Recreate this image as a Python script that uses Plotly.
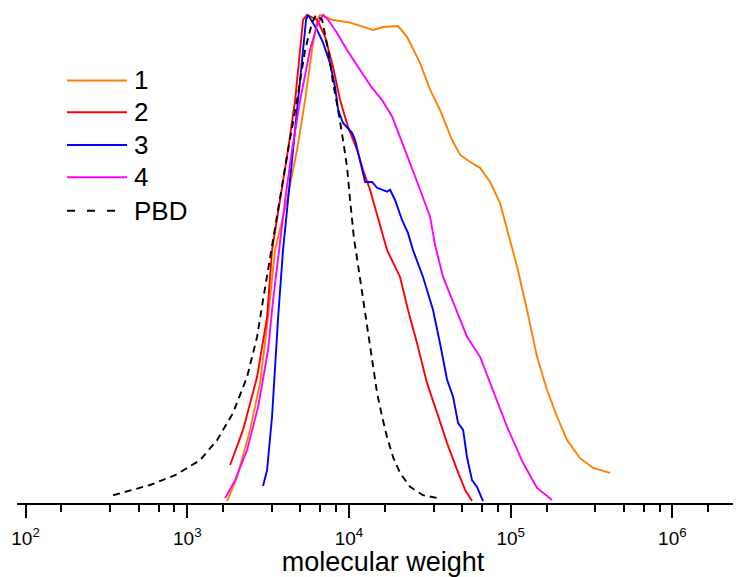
import plotly.graph_objects as go

# molecular weight / normalised signal
mw_1 = [1762, 2032, 2445, 2818, 3162, 3491, 4140, 4776, 5354, 5913, 6353, 6626, 7857,
        10160, 14100, 16250, 20140, 22860, 27540, 31770, 36560, 43420, 48640, 56100,
        64710, 74640, 85900, 99100, 109600, 126300, 145600, 167900, 193600, 223300,
        268500, 323600, 412100]
sig_1 = [0.002, 0.051, 0.148, 0.244, 0.380, 0.517, 0.620, 0.723, 0.825, 0.928, 0.990, 1.0, 0.990,
         0.984, 0.969, 0.975, 0.977, 0.955, 0.901, 0.846, 0.805, 0.743, 0.713, 0.698,
         0.686, 0.657, 0.614, 0.538, 0.483, 0.394, 0.298, 0.230, 0.175, 0.127,
         0.090, 0.070, 0.060]

mw_2 = [1841, 2213, 2703, 3118, 3344, 3750, 4200, 4645, 4988, 5202, 5506, 6353, 7118,
        7976, 8810, 9870, 11220, 12220, 13500, 15140, 17210, 20700, 23190, 26370,
        30400, 35070, 40440, 46650, 52240, 57680]
sig_2 = [0.076, 0.148, 0.257, 0.380, 0.517, 0.620, 0.723, 0.825, 0.928, 0.990, 1.0, 0.990, 0.955,
         0.893, 0.825, 0.770, 0.723, 0.682, 0.641, 0.585, 0.517, 0.462, 0.394, 0.326,
         0.244, 0.183, 0.121, 0.066, 0.025, 0.002]

mw_3 = [2942, 3118, 3344, 3491, 3648, 3910, 4200, 4510, 4843, 5202, 5430, 5585, 5998,
        6353, 6918, 7638, 8204, 8570, 9190, 10450, 10910, 11720, 12590, 13900, 14920,
        17210, 17950, 19280, 21290, 23190, 24900, 28710, 33110, 36560, 40440, 44060,
        47300, 50800, 53720, 57680, 61950, 67450]
sig_3 = [0.033, 0.066, 0.175, 0.277, 0.380, 0.517, 0.620, 0.723, 0.825, 0.928, 0.990, 1.0, 0.984,
         0.969, 0.943, 0.901, 0.852, 0.805, 0.778, 0.758, 0.743, 0.702, 0.657, 0.657, 0.645,
         0.637, 0.641, 0.620, 0.579, 0.552, 0.517, 0.462, 0.394, 0.326, 0.251, 0.216,
         0.162, 0.148, 0.092, 0.045, 0.031, 0.002]

mw_4 = [1713, 1976, 2344, 2742, 3162, 3394, 3696, 4027, 4446, 4988, 5745, 6353, 6918,
        7430, 8440, 9730, 11720, 13900, 16030, 18490, 20700, 23880, 27540, 31770,
        34050, 38190, 46650, 53720, 64710, 77840, 95060, 119400, 145600, 180300]
sig_4 = [0.008, 0.045, 0.107, 0.195, 0.312, 0.415, 0.517, 0.620, 0.723, 0.825, 0.928, 0.979, 1.0,
         0.990, 0.963, 0.928, 0.887, 0.850, 0.825, 0.791, 0.749, 0.696, 0.641, 0.585,
         0.528, 0.462, 0.388, 0.339, 0.298, 0.230, 0.154, 0.080, 0.029, 0.004]

mw_pbd = [348, 589, 841, 1200, 1528, 1920, 2344, 2703, 2942, 3251, 3750, 4200, 4776,
          5354, 5913, 6266, 6823, 7430, 7976, 8570, 9190, 9730, 10160, 10760, 11070,
          12050, 12940, 13900, 14920, 16030, 17210, 18750, 20700, 23880, 28710, 35560]
sig_pbd = [0.014, 0.035, 0.055, 0.086, 0.127, 0.183, 0.257, 0.339, 0.415, 0.503, 0.620, 0.723, 0.825,
           0.928, 0.984, 1.0, 0.990, 0.928, 0.860, 0.805, 0.743, 0.688, 0.620, 0.538, 0.513,
           0.429, 0.359, 0.285, 0.224, 0.175, 0.133, 0.092, 0.060, 0.031, 0.014, 0.008]

names = ['1', '2', '3', '4', 'PBD']
colors = ['#FF8000', '#FF0000', '#0000FF', '#FF00FF', '#000000']

major_vals = [1e2, 1e3, 1e4, 1e5, 1e6]
major_text = ['10<sup>2</sup>', '10<sup>3</sup>', '10<sup>4</sup>', '10<sup>5</sup>', '10<sup>6</sup>']
# Origin-style minor ticks: 5 per decade, linear steps of 10/6
minor_vals = [10 ** n * k * 10 / 6 for n in range(1, 7) for k in range(1, 6)]

font = 'Arial, Liberation Sans, sans-serif'

series = [(mw_1, sig_1), (mw_2, sig_2), (mw_3, sig_3), (mw_4, sig_4), (mw_pbd, sig_pbd)]

fig = go.Figure()
for (x, y), name, col in zip(series, names, colors):
    fig.add_trace(go.Scatter(
        x=x, y=y, mode='lines', name=name,
        line=dict(color=col, width=1.9, dash='7px,5px' if name == 'PBD' else 'solid'),
        showlegend=False
    ))

# hand-made legend so the samples are as long as in the original
# (paper coords of a 724px wide plot area, rescaled to the wider one below)
plot_w = 732
leg_y = [0.857, 0.7925, 0.726, 0.661, 0.593]
for name, col, yy in zip(names, colors, leg_y):
    x_end = 98 if name == 'PBD' else 110
    fig.add_shape(type='line', xref='paper', yref='paper', x0=50 / plot_w, x1=x_end / plot_w, y0=yy, y1=yy,
                  line=dict(color=col, width=2, dash='8px,12px' if name == 'PBD' else 'solid'))
    fig.add_annotation(xref='paper', yref='paper', x=115 / plot_w, y=yy, text=name, showarrow=False,
                       xanchor='left', yanchor='middle', font=dict(family=font, size=26, color='black'))

# page body keeps its default 8px margin; the axis runs off the right edge as in the original
fig.update_layout(
    width=741, height=569,
    margin=dict(l=9, r=0, t=2, b=74),
    plot_bgcolor='white', paper_bgcolor='white',
    font=dict(family=font, color='black'),
    xaxis=dict(
        type='log', range=[1.947, 6.474],
        showline=True, linecolor='black', linewidth=2,
        showgrid=False, zeroline=False,
        tickmode='array', tickvals=major_vals, ticktext=major_text,
        ticks='outside', ticklen=13, tickwidth=2, tickcolor='black',
        tickfont=dict(size=19), ticklabelstandoff=4,
        minor=dict(tickmode='array', tickvals=minor_vals, ticks='outside',
                   ticklen=7, tickwidth=2, tickcolor='black', showgrid=False),
        title=dict(text='molecular weight', font=dict(size=27), standoff=4),
    ),
    yaxis=dict(visible=False, range=[-0.002, 1.01]),
)

fig.write_html('out.html')
